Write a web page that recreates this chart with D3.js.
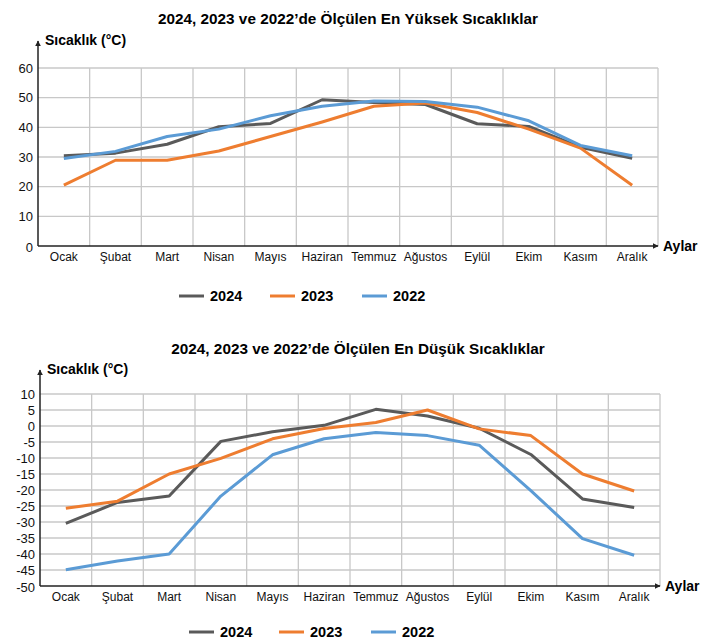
<!DOCTYPE html>
<html>
<head>
<meta charset="utf-8">
<script src="https://cdn.jsdelivr.net/npm/d3@7"></script>
<style>
  body { margin: 0; background: #fff; }
  svg { font-family: "Liberation Sans", Arial, Helvetica, sans-serif; }
</style>
</head>
<body>
<div id="chart"></div>
<script>
// data
var months = ["Ocak", "Şubat", "Mart", "Nisan", "Mayıs", "Haziran", "Temmuz", "Ağustos", "Eylül", "Ekim", "Kasım", "Aralık"];
var years = ["2024", "2023", "2022"];

var high2024 = [30.4, 31.3, 34.3, 40.2, 41.3, 49.3, 48.4, 47.7, 41.2, 40.3, 33.3, 29.6];
var high2023 = [20.5, 28.9, 28.9, 32, 36.9, 41.8, 47.1, 48.2, 45, 39.4, 33, 20.5];
var high2022 = [29.5, 31.9, 36.9, 39.4, 43.9, 47.1, 48.9, 48.7, 46.8, 42.2, 33.9, 30.4];

var low2024 = [-30.4, -23.9, -21.9, -4.8, -1.8, 0.2, 5.2, 3.1, -0.7, -8.9, -22.8, -25.5];
var low2023 = [-25.7, -23.5, -15, -10.1, -4, -0.8, 1.1, 5, -0.9, -3, -15, -20.3];
var low2022 = [-44.9, -42.2, -40, -21.9, -9, -4, -2, -3, -6, -20.2, -35.2, -40.4];

var highTicks = [0, 10, 20, 30, 40, 50, 60];
var lowTicks = [-50, -45, -40, -35, -30, -25, -20, -15, -10, -5, 0, 5, 10];

var colors = {"2024": "#5a5a5a", "2023": "#ee7d30", "2022": "#5b9bd5"};

var width = 711, height = 644;

var svg = d3.select("#chart").append("svg")
    .attr("width", width)
    .attr("height", height);

var defs = svg.append("defs");
defs.append("marker")
    .attr("id", "arrow")
    .attr("viewBox", "0 0 10 10")
    .attr("refX", 9)
    .attr("refY", 5)
    .attr("markerWidth", 6)
    .attr("markerHeight", 6)
    .attr("markerUnits", "userSpaceOnUse")
    .attr("orient", "auto")
    .append("path")
    .attr("d", "M0,0 L10,5 L0,10 z")
    .attr("fill", "#222");

function drawChart(opt) {
    var g = svg.append("g");

    var x = d3.scaleBand()
        .domain(months)
        .range([opt.left, opt.right]);

    var y = d3.scaleLinear()
        .domain(d3.extent(opt.ticks))
        .range([opt.bottom, opt.top]);

    // title
    g.append("text")
        .attr("x", opt.titleX)
        .attr("y", opt.titleY)
        .attr("text-anchor", "middle")
        .style("font-size", "15.3px")
        .style("font-weight", "bold")
        .text(opt.title);

    // grid
    g.selectAll(".hgrid")
        .data(opt.ticks.slice(1))
        .enter().append("line")
        .attr("x1", opt.left)
        .attr("x2", opt.right)
        .attr("y1", function (d) { return y(d); })
        .attr("y2", function (d) { return y(d); })
        .attr("stroke", "#c8c8c8")
        .attr("stroke-width", 1.3);

    g.selectAll(".vgrid")
        .data(months.slice(1).concat(["end"]))
        .enter().append("line")
        .attr("x1", function (d, i) { return opt.left + (i + 1) * x.bandwidth(); })
        .attr("x2", function (d, i) { return opt.left + (i + 1) * x.bandwidth(); })
        .attr("y1", opt.top)
        .attr("y2", opt.bottom)
        .attr("stroke", "#c8c8c8")
        .attr("stroke-width", 1.3);

    // y tick labels
    g.selectAll(".ylab")
        .data(opt.ticks)
        .enter().append("text")
        .attr("x", opt.left - 5)
        .attr("y", function (d) { return y(d) + (d === opt.ticks[0] ? 6 : 4.5); })
        .attr("text-anchor", "end")
        .style("font-size", "13px")
        .attr("fill", "#111")
        .text(function (d) { return d; });

    // x labels
    g.selectAll(".xlab")
        .data(months)
        .enter().append("text")
        .attr("x", function (d) { return x(d) + x.bandwidth() / 2; })
        .attr("y", opt.bottom + 15)
        .attr("text-anchor", "middle")
        .style("font-size", "12px")
        .attr("fill", "#111")
        .text(function (d) { return d; });

    // lines
    var line = d3.line()
        .x(function (d, i) { return x(months[i]) + x.bandwidth() / 2; })
        .y(function (d) { return y(d); });

    years.forEach(function (yr, k) {
        g.append("path")
            .datum(opt.series[k])
            .attr("d", line)
            .attr("fill", "none")
            .attr("stroke", colors[yr])
            .attr("stroke-width", 3)
            .attr("stroke-linejoin", "round");
    });

    // axes with arrows
    g.append("line")
        .attr("x1", opt.left)
        .attr("x2", opt.left)
        .attr("y1", opt.bottom)
        .attr("y2", opt.arrowTop)
        .attr("stroke", "#222")
        .attr("stroke-width", 1.5)
        .attr("marker-end", "url(#arrow)");

    g.append("line")
        .attr("x1", opt.left)
        .attr("x2", opt.right)
        .attr("y1", opt.bottom)
        .attr("y2", opt.bottom)
        .attr("stroke", "#222")
        .attr("stroke-width", 1.5)
        .attr("marker-end", "url(#arrow)");

    g.append("text")
        .attr("x", opt.left + 7)
        .attr("y", opt.arrowTop + 4)
        .style("font-size", "14px")
        .style("font-weight", "bold")
        .text("Sıcaklık (°C)");

    g.append("text")
        .attr("x", opt.right + 5)
        .attr("y", opt.bottom + 5)
        .style("font-size", "14px")
        .style("font-weight", "bold")
        .text("Aylar");

    // legend
    var leg = g.selectAll(".leg")
        .data(years)
        .enter().append("g")
        .attr("transform", function (d, i) {
            return "translate(" + opt.legendX[i] + "," + opt.legendY + ")";
        });

    leg.append("line")
        .attr("x1", 0)
        .attr("x2", 25)
        .attr("y1", 0)
        .attr("y2", 0)
        .attr("stroke", function (d) { return colors[d]; })
        .attr("stroke-width", 3);

    leg.append("text")
        .attr("x", 31)
        .attr("y", 5)
        .style("font-size", "14.5px")
        .style("font-weight", "bold")
        .text(function (d) { return d; });
}

drawChart({
    title: "2024, 2023 ve 2022’de Ölçülen En Yüksek Sıcaklıklar",
    titleX: 348, titleY: 24,
    left: 38, right: 658, top: 68, bottom: 246, arrowTop: 41,
    ticks: highTicks,
    series: [high2024, high2023, high2022],
    legendX: [179, 270, 362], legendY: 296
});

drawChart({
    title: "2024, 2023 ve 2022’de Ölçülen En Düşük Sıcaklıklar",
    titleX: 358, titleY: 354,
    left: 40, right: 660, top: 394, bottom: 586, arrowTop: 370,
    ticks: lowTicks,
    series: [low2024, low2023, low2022],
    legendX: [189, 279, 371], legendY: 632
});
</script>
</body>
</html>
